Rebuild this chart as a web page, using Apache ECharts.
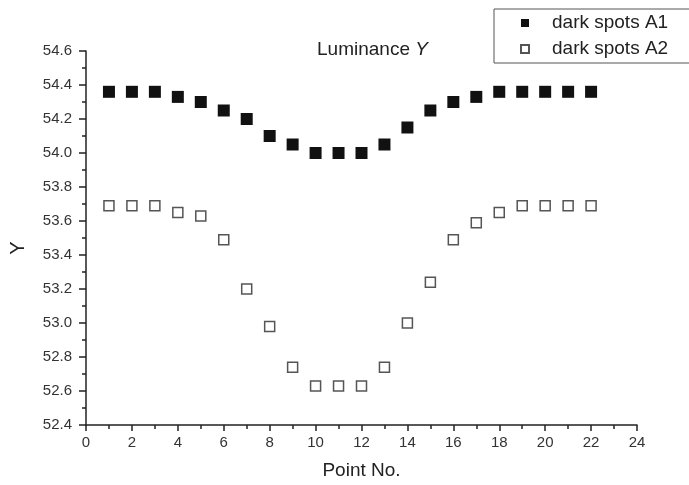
<!DOCTYPE html>
<html>
<head>
<meta charset="utf-8">
<script src="https://cdn.jsdelivr.net/npm/echarts@6/dist/echarts.min.js"></script>
<style>
  html, body { margin: 0; padding: 0; background: #fff; }
  #chart { width: 689px; height: 485px; }
</style>
</head>
<body>
<div id="chart"></div>
<script>
// Measurement points along the scan line
const pointNo = [1,2,3,4,5,6,7,8,9,10,11,12,13,14,15,16,17,18,19,20,21,22];

// Luminance Y for the two dark-spot regions
const spotsA1 = [54.36,54.36,54.36,54.33,54.30,54.25,54.20,54.10,54.05,54.00,54.00,54.00,54.05,54.15,54.25,54.30,54.33,54.36,54.36,54.36,54.36,54.36];
const spotsA2 = [53.69,53.69,53.69,53.65,53.63,53.49,53.20,52.98,52.74,52.63,52.63,52.63,52.74,53.00,53.24,53.49,53.59,53.65,53.69,53.69,53.69,53.69];

const seriesNames = ['dark spots A1', 'dark spots A2'];

const FONT = 'Liberation Sans, Arial, sans-serif';

function pairs(xs, ys) {
  return xs.map((x, i) => [x, ys[i]]);
}

const chart = echarts.init(document.getElementById('chart'), null, { renderer: 'canvas' });

chart.setOption({
  backgroundColor: '#fff',
  animation: false,
  title: {
    text: '{n|Luminance }{i|Y}',
    left: 312,
    top: 35,
    textStyle: {
      fontWeight: 'normal',
      rich: {
        n: { fontFamily: FONT, fontSize: 19, fontWeight: 'normal', color: '#222' },
        i: { fontFamily: FONT, fontSize: 19, fontWeight: 'normal', fontStyle: 'italic', color: '#222' }
      }
    }
  },
  legend: {
    orient: 'vertical',
    left: 494,
    top: 9,
    padding: [4, 60, 4, 26],
    itemGap: 6,
    itemWidth: 8,
    itemHeight: 8,
    borderColor: '#555',
    borderWidth: 1,
    borderRadius: 0,
    icon: 'rect',
    textStyle: {
      fontFamily: FONT,
      fontSize: 19,
      lineHeight: 20,
      color: '#222',
      padding: [0, 0, 0, 18]
    },
    data: seriesNames
  },
  grid: { left: 85, right: 52, top: 51, bottom: 57 },
  xAxis: {
    type: 'value',
    min: 0,
    max: 24,
    interval: 2,
    name: 'Point No.',
    nameLocation: 'middle',
    nameGap: 36,
    nameTextStyle: { fontFamily: FONT, fontSize: 19, color: '#222' },
    axisLine: { show: true, lineStyle: { color: '#222', width: 1.5 } },
    axisTick: { show: true, length: 6, lineStyle: { color: '#222', width: 1.5 } },
    minorTick: { show: true, splitNumber: 2, length: 4, lineStyle: { color: '#222', width: 1.5 } },
    axisLabel: { fontFamily: FONT, fontSize: 15, color: '#333', margin: 10 },
    splitLine: { show: false }
  },
  yAxis: {
    type: 'value',
    min: 52.4,
    max: 54.6,
    interval: 0.2,
    name: 'Y',
    nameLocation: 'middle',
    nameGap: 58,
    nameRotate: 90,
    nameTextStyle: { fontFamily: FONT, fontSize: 20, color: '#222', padding: [0, 0, 0, -20] },
    axisLine: { show: true, lineStyle: { color: '#222', width: 1.5 } },
    axisTick: { show: true, length: 7, lineStyle: { color: '#222', width: 1.5 } },
    minorTick: { show: true, splitNumber: 2, length: 4, lineStyle: { color: '#222', width: 1.5 } },
    axisLabel: {
      fontFamily: FONT, fontSize: 15, color: '#333', margin: 14,
      formatter: v => v.toFixed(1)
    },
    splitLine: { show: false }
  },
  series: [
    {
      name: seriesNames[0],
      type: 'scatter',
      symbol: 'rect',
      symbolSize: 12,
      itemStyle: { color: '#111', borderColor: '#111', borderWidth: 0, opacity: 1 },
      data: pairs(pointNo, spotsA1)
    },
    {
      name: seriesNames[1],
      type: 'scatter',
      symbol: 'rect',
      symbolSize: 10,
      itemStyle: { color: '#fff', borderColor: '#555', borderWidth: 1.5, opacity: 1 },
      data: pairs(pointNo, spotsA2)
    }
  ]
});
</script>
</body>
</html>
